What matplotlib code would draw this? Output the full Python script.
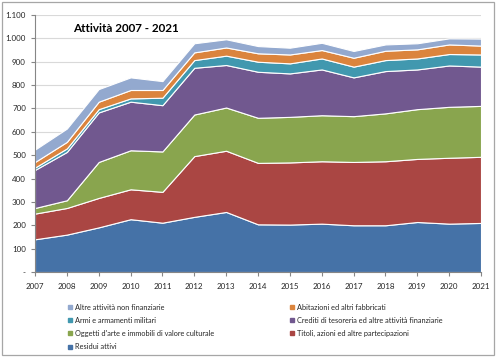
import matplotlib
matplotlib.use("Agg")
import matplotlib.pyplot as plt
from matplotlib.lines import Line2D
from matplotlib.patches import Rectangle
from matplotlib.ticker import FuncFormatter

plt.rcParams['font.family'] = ['Lato', 'DejaVu Sans']

years = list(range(2007, 2022))

residui_attivi = [140, 160, 191, 226, 211, 236, 257, 204, 203, 207, 200, 200, 214, 207, 210]
titoli_azioni = [110, 114, 126, 128, 132, 260, 262, 263, 266, 267, 271, 274, 270, 282, 283]
oggetti_arte = [24, 33, 154, 167, 173, 178, 185, 193, 195, 197, 196, 205, 213, 218, 218]
crediti_tesoreria = [163, 207, 212, 208, 198, 200, 182, 197, 186, 196, 166, 181, 170, 177, 168]
armi_armamenti = [10, 15, 14, 14, 32, 33, 40, 43, 43, 47, 46, 47, 47, 49, 52]
abitazioni = [24, 28, 32, 36, 33, 33, 35, 36, 38, 36, 38, 40, 39, 41, 38]
altre_attivita = [53, 57, 54, 54, 38, 39, 35, 31, 29, 31, 29, 27, 26, 26, 30]

series_labels = [
    "Residui attivi",
    "Titoli, azioni ed altre partecipazioni",
    "Oggetti d'arte e immobili di valore culturale",
    "Crediti di tesoreria ed altre attività finanziarie",
    "Armi e armamenti militari",
    "Abitazioni ed altri fabbricati",
    "Altre attività non finanziarie",
]
series_colors = ["#4572A7", "#AA4643", "#89A54E", "#71588F", "#4198AF", "#DB843D", "#93A9CF"]
title = "Attività 2007 - 2021"

W, H = 498, 359
fig = plt.figure(figsize=(W / 100, H / 100), dpi=100)
fig.patch.set_facecolor("white")

# outer chart border
fig.patches.append(Rectangle((2 / W, 4 / H), 492 / W, 353 / H, transform=fig.transFigure,
                             fill=False, edgecolor="#A6A6A6", linewidth=0.9))

left, right, top, bottom = 35, 481, 15, 272
ax = fig.add_axes([left / W, 1 - bottom / H, (right - left) / W, (bottom - top) / H])

data = [residui_attivi, titoli_azioni, oggetti_arte, crediti_tesoreria,
        armi_armamenti, abitazioni, altre_attivita]
ax.stackplot(years, *data, colors=series_colors, edgecolor="white", linewidth=0.8, zorder=3)

ax.set_xlim(years[0], years[-1])
ax.set_ylim(0, 1100)
ax.set_yticks(range(0, 1101, 100))
ax.set_xticks(years)
ax.yaxis.set_major_formatter(FuncFormatter(
    lambda v, p: "-" if v == 0 else f"{int(v):,}".replace(",", ".")))

ax.grid(axis="y", color="#D9D9D9", linewidth=0.8, zorder=0)
ax.set_axisbelow(True)
for s in ["top", "right"]:
    ax.spines[s].set_visible(False)
for s in ["left", "bottom"]:
    ax.spines[s].set_color("#868686")
    ax.spines[s].set_linewidth(0.8)
    ax.spines[s].set_zorder(4)
ax.tick_params(axis="both", colors="#868686", length=3, width=0.8, labelsize=5.8,
               labelcolor="#262626")
ax.tick_params(axis="y", pad=3.5)
ax.tick_params(axis="x", pad=5)

fig.text(73 / W, 1 - 28.5 / H, title, fontsize=8.4, fontweight="bold", va="center",
         ha="left", color="black")

# legend: Excel row-wise order
order_col1 = [6, 4, 2, 0]
order_col2 = [5, 3, 1]

def handles(idx):
    return [Line2D([], [], linestyle="none", marker="s", markersize=2.6,
                   markerfacecolor=series_colors[i], markeredgecolor=series_colors[i])
            for i in idx]

leg_kw = dict(frameon=False, fontsize=5.3, handlelength=0.5, handletextpad=0.45,
              labelspacing=0.85, borderpad=0, borderaxespad=0, loc="upper left",
              bbox_transform=fig.transFigure, labelcolor="#262626")
leg1 = fig.legend(handles(order_col1), [series_labels[i] for i in order_col1],
                  bbox_to_anchor=(68.5 / W, 1 - 303.5 / H), **leg_kw)
leg2 = fig.legend(handles(order_col2), [series_labels[i] for i in order_col2],
                  bbox_to_anchor=(290.5 / W, 1 - 303.5 / H), **leg_kw)

fig.savefig("out.png", dpi=100, facecolor="white")
